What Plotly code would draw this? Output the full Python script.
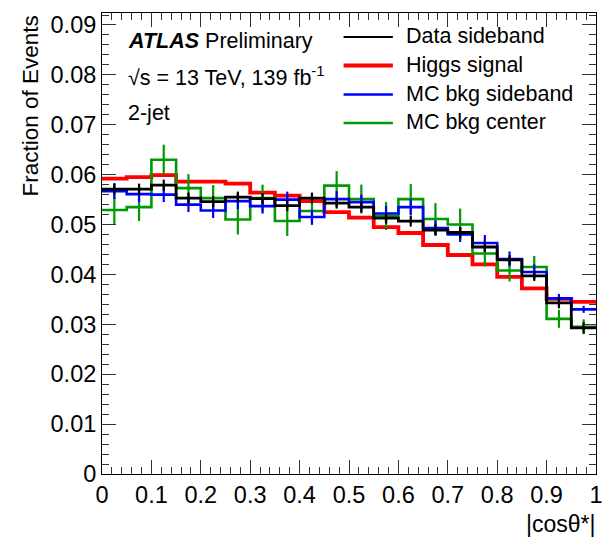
import plotly.graph_objects as go

# ---- data (20 bins of |cos theta*| from 0 to 1) ----
bin_edges = [round(i * 0.05, 2) for i in range(21)]
bin_centers = [round(0.025 + i * 0.05, 3) for i in range(20)]

data_sideband = [0.0571, 0.0571, 0.0579, 0.0553, 0.0546, 0.0555, 0.0552, 0.0538, 0.0553, 0.0543,
                 0.0535, 0.0513, 0.0507, 0.0489, 0.0484, 0.0455, 0.0429, 0.0397, 0.0343, 0.0293]
data_err = [0.0011, 0.0011, 0.0011, 0.0011, 0.0011, 0.0011, 0.0011, 0.0011, 0.0011, 0.0011,
            0.0011, 0.0011, 0.0011, 0.0011, 0.0011, 0.0010, 0.0010, 0.0010, 0.0011, 0.0011]

higgs_signal = [0.0592, 0.0595, 0.0599, 0.0586, 0.0586, 0.0582, 0.0564, 0.0558, 0.0547, 0.0525,
                0.0514, 0.0495, 0.0483, 0.0459, 0.0439, 0.0420, 0.0395, 0.0372, 0.0351, 0.0345]

mc_bkg_sideband = [0.0567, 0.0561, 0.0560, 0.0540, 0.0528, 0.0547, 0.0537, 0.0550, 0.0515, 0.0551,
                   0.0545, 0.0522, 0.0535, 0.0493, 0.0480, 0.0463, 0.0431, 0.0405, 0.0352, 0.0330]
mc_bkg_sideband_err = [0.0016, 0.0016, 0.0015, 0.0015, 0.0015, 0.0016, 0.0015, 0.0016, 0.0015, 0.0016,
                       0.0015, 0.0015, 0.0016, 0.0015, 0.0015, 0.0016, 0.0015, 0.0015, 0.0009, 0.0007]

mc_bkg_center = [0.0529, 0.0535, 0.0630, 0.0573, 0.0553, 0.0510, 0.0553, 0.0507, 0.0527, 0.0578,
                 0.0551, 0.0517, 0.0551, 0.0511, 0.0500, 0.0442, 0.0408, 0.0415, 0.0311, 0.0295]
mc_bkg_center_err = [0.0030, 0.0028, 0.0030, 0.0028, 0.0026, 0.0030, 0.0027, 0.0030, 0.0028, 0.0029,
                     0.0029, 0.0028, 0.0030, 0.0032, 0.0032, 0.0026, 0.0022, 0.0022, 0.0018, 0.0015]

legend_labels = ["Data sideband", "Higgs signal", "MC bkg sideband", "MC bkg center"]
colors = {"black": "#000000", "red": "#ff0000", "blue": "#0000ff", "green": "#009900"}

FONT = "Liberation Sans, Arial, Helvetica, sans-serif"

fig = go.Figure()


def add_hist(values, color, width, err=None):
    fig.add_trace(go.Scatter(
        x=bin_edges, y=list(values) + [values[-1]], mode="lines",
        line=dict(shape="hv", color=color, width=width), showlegend=False,
        hoverinfo="skip"))
    if err is not None:
        fig.add_trace(go.Scatter(
            x=bin_centers, y=values, mode="markers",
            marker=dict(size=1, color=color),
            error_y=dict(type="data", array=err, visible=True, color=color,
                         thickness=2.2, width=0),
            showlegend=False, hoverinfo="skip"))


add_hist(higgs_signal, colors["red"], 3.8)
add_hist(mc_bkg_center, colors["green"], 2.6, mc_bkg_center_err)
add_hist(mc_bkg_sideband, colors["blue"], 2.6, mc_bkg_sideband_err)
add_hist(data_sideband, colors["black"], 2.8, data_err)

# plot area geometry in pixels
W, H = 610, 542
L, R, T, B = 102, 7, 13, 68
pw, ph = W - L - R, H - T - B


def px(x):
    return (x - L) / pw


def py(y):
    return (H - B - y) / ph


annotations = []
# ATLAS label block
annotations.append(dict(x=px(126), y=py(41), xref="paper", yref="paper", xanchor="left",
                        yanchor="middle", showarrow=False,
                        text="<b><i>ATLAS</i></b> Preliminary",
                        font=dict(family=FONT, size=21.5, color="black")))
annotations.append(dict(x=px(126), y=py(76), xref="paper", yref="paper", xanchor="left",
                        yanchor="middle", showarrow=False,
                        text="√s = 13 TeV, 139 fb<sup>-1</sup>",
                        font=dict(family=FONT, size=21.5, color="black")))
annotations.append(dict(x=px(126), y=py(113), xref="paper", yref="paper", xanchor="left",
                        yanchor="middle", showarrow=False, text="2-jet",
                        font=dict(family=FONT, size=21.5, color="black")))

# manual legend
legend_rows = [37, 65.5, 94.5, 123]
legend_colors = [colors["black"], colors["red"], colors["blue"], colors["green"]]
legend_widths = [2.2, 4, 2.6, 2.6]
shapes = []
for lab, yy, c, w in zip(legend_labels, legend_rows, legend_colors, legend_widths):
    shapes.append(dict(type="line", xref="paper", yref="paper", x0=px(347), x1=px(397),
                       y0=py(yy), y1=py(yy), line=dict(color=c, width=w)))
    annotations.append(dict(x=px(408), y=py(yy - 1), xref="paper", yref="paper",
                            xanchor="left", yanchor="middle", showarrow=False, text=lab,
                            font=dict(family=FONT, size=21.5, color="black")))

# axis titles
annotations.append(dict(x=px(29), y=py(14), xref="paper", yref="paper", xanchor="center",
                        yanchor="top", showarrow=False, text="Fraction of Events",
                        textangle=-90, font=dict(family=FONT, size=22.5, color="black")))
annotations.append(dict(x=px(604), y=py(524), xref="paper", yref="paper", xanchor="right",
                        yanchor="middle", showarrow=False, text="|cosθ*|",
                        font=dict(family=FONT, size=23, color="black")))

fig.update_layout(
    width=W, height=H,
    margin=dict(l=L, r=R, t=T, b=B),
    paper_bgcolor="white", plot_bgcolor="white",
    showlegend=False,
    annotations=annotations, shapes=shapes,
    xaxis=dict(range=[0, 1], dtick=0.1, tick0=0, ticks="inside", ticklen=14,
               tickwidth=1, tickcolor="#333333", showline=True, linecolor="black",
               linewidth=1, mirror="ticks", showgrid=False, zeroline=False,
               tickfont=dict(family=FONT, size=23.5, color="black"),
               minor=dict(dtick=0.02, ticks="inside", ticklen=7, tickwidth=1,
                          tickcolor="#333333", showgrid=False)),
    yaxis=dict(range=[0, 0.0924], dtick=0.01, tick0=0, ticks="inside", ticklen=14,
               tickwidth=1, tickcolor="#333333", showline=True, linecolor="black",
               linewidth=1, mirror="ticks", showgrid=False,
               zeroline=True, zerolinecolor="black", zerolinewidth=3,
               tickfont=dict(family=FONT, size=23.5, color="black"),
               minor=dict(dtick=0.002, ticks="inside", ticklen=7, tickwidth=1,
                          tickcolor="#333333", showgrid=False)),
)

fig.write_html("out.html")
